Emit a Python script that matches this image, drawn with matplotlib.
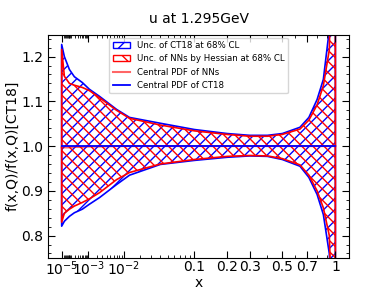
import numpy as np
import matplotlib
matplotlib.use("Agg")
import matplotlib.pyplot as plt
import matplotlib.patches as mpatches
from matplotlib.lines import Line2D

# datos
x = [1e-5, 2.4e-5, 8e-5, 1.9e-4, 5.4e-4, 1.1e-3, 2.5e-3, 7e-3, 0.013, 0.04,
     0.1, 0.2, 0.3, 0.4, 0.5, 0.64, 0.72, 0.8, 0.865, 0.93, 0.965, 1.0]

ct18_up = [1.227, 1.200, 1.171, 1.155, 1.142, 1.127, 1.111, 1.082, 1.064, 1.051,
           1.037, 1.028, 1.024, 1.024, 1.028, 1.042, 1.064, 1.104, 1.149, 1.26, 1.5, 2.0]
ct18_lo = [0.821, 0.832, 0.843, 0.851, 0.859, 0.870, 0.885, 0.914, 0.935, 0.959,
           0.968, 0.975, 0.978, 0.977, 0.970, 0.955, 0.930, 0.892, 0.847, 0.76, 0.6, 0.3]

nn_up = [1.216, 1.156, 1.140, 1.136, 1.131, 1.124, 1.108, 1.080, 1.062, 1.047,
         1.034, 1.026, 1.022, 1.022, 1.026, 1.038, 1.058, 1.092, 1.135, 1.215, 1.5, 2.0]
nn_lo = [0.830, 0.850, 0.859, 0.866, 0.874, 0.882, 0.896, 0.925, 0.941, 0.960,
         0.970, 0.977, 0.979, 0.978, 0.972, 0.958, 0.935, 0.900, 0.862, 0.80, 0.6, 0.3]

nn_central = [0.997, 0.997, 0.997, 0.998, 0.998, 0.999, 0.999, 1.0, 1.0, 1.0,
              1.0, 1.0, 1.0, 1.0, 1.0, 1.0, 1.0, 1.0, 1.0, 1.0, 1.0, 1.0]
ct18_central = [1.0] * len(x)

xticks = [1e-5, 1e-3, 1e-2, 0.1, 0.2, 0.3, 0.5, 0.7, 1.0]
xticklabels = [r'$10^{-5}$', r'$10^{-3}$', r'$10^{-2}$', '0.1', '0.2', '0.3', '0.5', '0.7', '1']
xminor = [s * 10.0**e for e in range(-5, 0) for s in range(1, 10)]


def fwd(v):
    v = np.asarray(v, dtype=float)
    return np.sign(v) * np.abs(v)**0.3


def inv(v):
    v = np.asarray(v, dtype=float)
    return np.sign(v) * np.abs(v)**(1 / 0.3)


fig = plt.figure(figsize=(3.87, 2.90), dpi=100)
ax = fig.add_axes([0.124, 0.112, 0.778, 0.767])

ax.fill_between(x, ct18_lo, ct18_up, facecolor='none', edgecolor='blue',
                hatch='///', linewidth=1.2)
ax.fill_between(x, nn_lo, nn_up, facecolor='none', edgecolor='red',
                hatch='\\\\\\', linewidth=1.2)
ax.plot(x, nn_central, color='red', alpha=0.6, lw=1.5)
ax.plot(x, ct18_central, color='blue', lw=1.3)

ax.set_xscale('function', functions=(fwd, inv))
ax.set_xticks(xticks, xticklabels)
ax.set_xticks(xminor, minor=True)
ax.set_ylim(0.751, 1.248)
ax.yaxis.set_minor_locator(matplotlib.ticker.MultipleLocator(0.02))

ax.tick_params(which='both', direction='in', top=True, right=True, labelsize=10)
ax.tick_params(which='major', length=5)
ax.tick_params(which='minor', length=2.5)
ax.tick_params(axis='x', which='major', pad=1.5)

ax.set_xlabel('x', fontsize=10, labelpad=-1.5)
ax.set_ylabel('f(x,Q)/f(x,Q)[CT18]', fontsize=10, labelpad=1)
ax.set_title('u at 1.295GeV', fontsize=10, pad=9)

handles = [
    mpatches.Patch(facecolor='none', edgecolor='blue', hatch='//', label='Unc. of CT18 at 68% CL'),
    mpatches.Patch(facecolor='none', edgecolor='red', hatch='\\\\', label='Unc. of NNs by Hessian at 68% CL'),
    Line2D([], [], color='red', alpha=0.6, lw=1.5, label='Central PDF of NNs'),
    Line2D([], [], color='blue', lw=1.3, label='Central PDF of CT18'),
]
ax.legend(handles=handles, loc='upper center', fontsize=6.2, borderaxespad=0.3)

fig.savefig('out.png', dpi=100)
